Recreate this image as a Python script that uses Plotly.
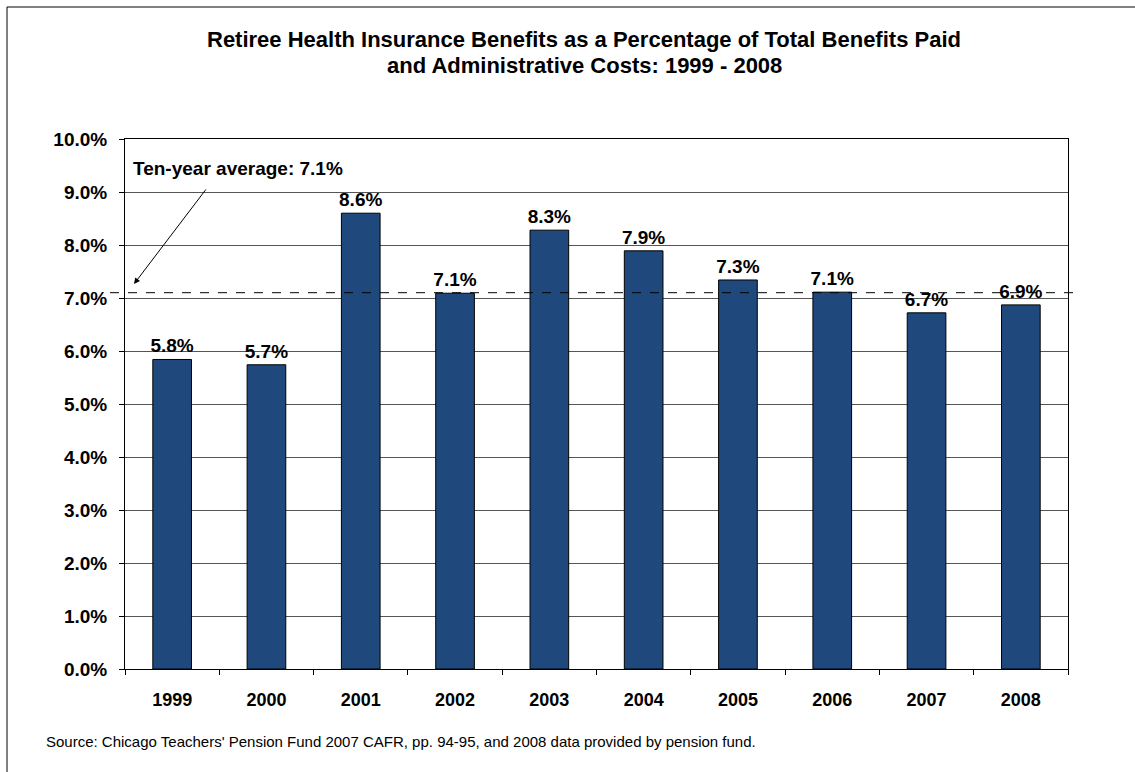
import plotly.graph_objects as go

years = ["1999", "2000", "2001", "2002", "2003", "2004", "2005", "2006", "2007", "2008"]
pct = [5.84, 5.74, 8.60, 7.09, 8.28, 7.89, 7.34, 7.11, 6.72, 6.87]
avg = 7.1
title_lines = ["Retiree Health Insurance Benefits as a Percentage of Total Benefits Paid",
               "and Administrative Costs: 1999 - 2008"]
avg_label = "Ten-year average: 7.1%"
source = "Source: Chicago Teachers' Pension Fund 2007 CAFR, pp. 94-95, and 2008 data provided by pension fund."

W, H = 1135, 772
L, R, T, B = 125, 1068, 139, 669
pw, ph = R - L, B - T

def px(p):
    return (p - L) / pw

def py(q):
    return (B - q) / ph

FONT = "Liberation Sans, Arial, sans-serif"

fig = go.Figure()
fig.add_trace(go.Bar(
    x=years, y=pct,
    marker=dict(color="#1F497D", line=dict(color="black", width=1)),
    text=[f"{v:.1f}%" for v in pct],
    textposition="outside",
    constraintext="none",
    textfont=dict(family=FONT, size=19, color="black", weight="bold"),
    cliponaxis=False,
    hoverinfo="skip",
))

fig.update_layout(
    width=W, height=H,
    margin=dict(l=L, r=W - R, t=T, b=H - B),
    paper_bgcolor="white", plot_bgcolor="white",
    bargap=0.59,
    showlegend=False,
    font=dict(family=FONT, color="black"),
)
fig.update_xaxes(
    type="category",
    showline=True, linecolor="black", linewidth=1, mirror=True,
    ticks="outside", ticklen=5, tickcolor="black", tickson="boundaries",
    tickfont=dict(family=FONT, size=18, color="black", weight="bold"),
    ticklabelstandoff=14,
    showgrid=False,
)
fig.update_yaxes(
    range=[0, 10], dtick=1, tickformat=".1f", ticksuffix="%",
    showline=True, linecolor="black", linewidth=1, mirror=True,
    ticks="outside", ticklen=5, tickcolor="black",
    tickfont=dict(family=FONT, size=19, color="black", weight="bold"),
    ticklabelstandoff=8,
    showgrid=True, gridcolor="#555555", gridwidth=1,
    zeroline=False,
)

# outer frame
fig.add_shape(type="rect", xref="paper", yref="paper",
              x0=px(7), x1=px(1150), y0=py(790), y1=py(7),
              line=dict(color="black", width=1), fillcolor="rgba(0,0,0,0)", layer="below")
# average dashed line
fig.add_shape(type="line", xref="paper", yref="y",
              x0=px(110), x1=px(1080), y0=avg, y1=avg,
              line=dict(color="black", width=1, dash="dash"))

# title (two lines)
for line, yc in zip(title_lines, [39, 65]):
    fig.add_annotation(xref="paper", yref="paper", x=px(584), y=py(yc),
                       text="<b>" + line + "</b>",
                       showarrow=False, xanchor="center", yanchor="middle",
                       font=dict(family=FONT, size=22, color="black"))
# average label
fig.add_annotation(xref="paper", yref="paper", x=px(131), y=py(168),
                   text="<b>" + avg_label + "</b>", showarrow=False,
                   xanchor="left", yanchor="middle",
                   font=dict(family=FONT, size=19, color="black"))
# arrow
fig.add_annotation(xref="paper", yref="paper", x=px(134), y=py(284),
                   text="", showarrow=True, ax=73, ay=-96,
                   arrowhead=2, arrowsize=1.2, arrowwidth=1, arrowcolor="black")
# source
fig.add_annotation(xref="paper", yref="paper", x=px(44), y=py(741),
                   text=source, showarrow=False, xanchor="left", yanchor="middle",
                   font=dict(family=FONT, size=15, color="black"))

fig.write_html("out.html")
